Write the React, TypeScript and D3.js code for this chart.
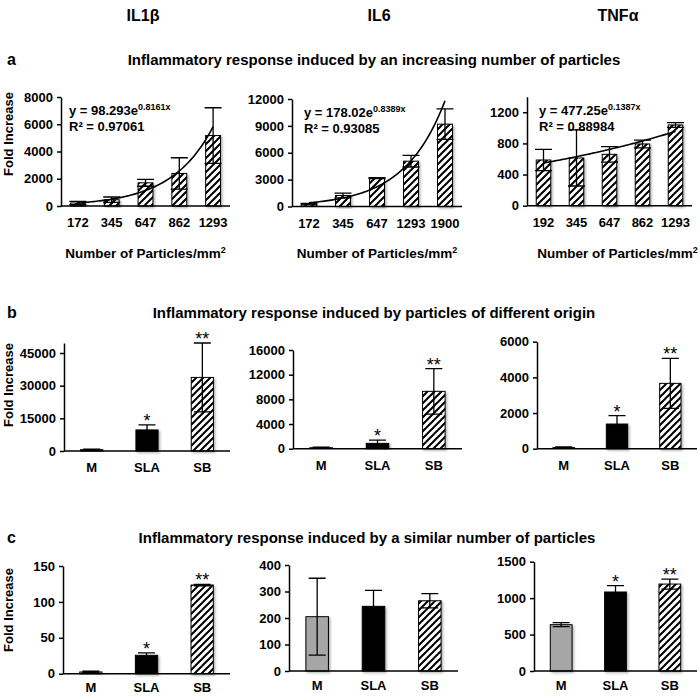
import React, { useEffect, useRef } from "react";
import * as d3 from "d3";

// column headers and row titles
const cytokines = ["IL1β", "IL6", "TNFα"];
const rowLetters = ["a", "b", "c"];
const rowTitles = [
  "Inflammatory response induced by an increasing number of particles",
  "Inflammatory response induced by particles of different origin",
  "Inflammatory response induced by a similar number of particles",
];

// row a: number of particles
const particleCats = [
  ["172", "345", "647", "862", "1293"],
  ["172", "345", "647", "1293", "1900"],
  ["192", "345", "647", "862", "1293"],
];
const particleMeans = [
  [220, 460, 1700, 2390, 5170],
  [270, 1230, 3170, 5060, 9190],
  [587, 613, 660, 793, 1037],
];
const particleErrs = [
  [120, 200, 250, 1150, 2040],
  [80, 270, 50, 650, 1700],
  [137, 360, 100, 50, 30],
];
const trendA = [98.293, 178.02, 477.25];
const trendB = [0.8161, 0.8389, 0.1387];
const trendR2 = ["0.97061", "0.93085", "0.88984"];

// rows b and c: origin of particles
const originCats = ["M", "SLA", "SB"];
const originMeans = [
  [614, 9680, 33790],
  [160, 865, 9300],
  [75, 1383, 3664],
];
const originErrs = [
  [200, 2300, 15800],
  [80, 540, 3680],
  [30, 467, 1400],
];
const originStars = [
  ["", "*", "**"],
  ["", "*", "**"],
  ["", "*", "**"],
];
const similarMeans = [
  [2.4, 25.6, 123.5],
  [205, 244, 265],
  [636, 1084, 1193],
];
const similarErrs = [
  [1, 3.3, 1],
  [145, 60, 27],
  [27, 87, 69],
];
const similarStars = [
  ["", "*", "**"],
  ["", "", ""],
  ["", "*", "**"],
];

// axis settings per row/column
const yMaxA = [8000, 12000, 1400];
const yStepA = [2000, 3000, 400];
const yMaxB = [49600, 16000, 6000];
const yStepB = [15000, 4000, 2000];
const yMaxC = [150, 400, 1500];
const yStepC = [50, 100, 500];

const FONT = "'Liberation Sans', Arial, Helvetica, sans-serif";

interface Frame {
  x0: number;
  x1: number;
  yTop: number;
  yBot: number;
}

const framesA: Frame[] = [
  { x0: 61, x1: 230, yTop: 97, yBot: 206 },
  { x0: 292, x1: 462, yTop: 99, yBot: 206.5 },
  { x0: 527, x1: 692, yTop: 96.7, yBot: 205.7 },
];
const framesB: Frame[] = [
  { x0: 64, x1: 230, yTop: 343, yBot: 451 },
  { x0: 293, x1: 462, yTop: 350, yBot: 448.7 },
  { x0: 537, x1: 697, yTop: 341.7, yBot: 448.7 },
];
const framesC: Frame[] = [
  { x0: 63, x1: 230, yTop: 566, yBot: 673.7 },
  { x0: 289, x1: 458, yTop: 565, yBot: 671 },
  { x0: 534, x1: 697, yTop: 561.7, yBot: 671 },
];

const fillFor = (cat: string, hatchAll: boolean) => {
  if (hatchAll || cat === "SB") return "url(#hatch)";
  if (cat === "SLA") return "#000";
  return "#a6a6a6";
};

const App: React.FC = () => {
  const svgRef = useRef<SVGSVGElement>(null);

  useEffect(() => {
    if (!svgRef.current) return;
    const svg = d3.select(svgRef.current);
    svg.selectAll("*").remove();

    const defs = svg.append("defs");
    const pat = defs
      .append("pattern")
      .attr("id", "hatch")
      .attr("patternUnits", "userSpaceOnUse")
      .attr("width", 7)
      .attr("height", 7);
    pat.append("rect").attr("width", 7).attr("height", 7).attr("fill", "#fff");
    pat
      .append("path")
      .attr("d", "M0,7 L7,0 M-1,1 L1,-1 M6,8 L8,6")
      .attr("stroke", "#000")
      .attr("stroke-width", 2);
    const shadow = defs
      .append("filter")
      .attr("id", "shadow")
      .attr("x", "-30%")
      .attr("y", "-10%")
      .attr("width", "160%")
      .attr("height", "130%");
    shadow
      .append("feDropShadow")
      .attr("dx", 1.5)
      .attr("dy", 1.5)
      .attr("stdDeviation", 1.2)
      .attr("flood-color", "#000")
      .attr("flood-opacity", 0.3);

    svg
      .append("rect")
      .attr("width", 700)
      .attr("height", 696)
      .attr("fill", "#fff");

    const g = svg.append("g").style("font-family", FONT);

    // column headers
    const headerX = [143, 379, 618];
    cytokines.forEach((c, i) => {
      g.append("text")
        .attr("x", headerX[i])
        .attr("y", 21)
        .attr("text-anchor", "middle")
        .attr("font-size", 16)
        .attr("font-weight", "bold")
        .text(c);
    });

    // row letters and titles
    const titleY = [65, 318, 543];
    const titleX = [374, 374, 367];
    rowTitles.forEach((t, i) => {
      g.append("text")
        .attr("x", 7)
        .attr("y", titleY[i])
        .attr("font-size", 16)
        .attr("font-weight", "bold")
        .text(rowLetters[i]);
      g.append("text")
        .attr("x", titleX[i])
        .attr("y", titleY[i])
        .attr("text-anchor", "middle")
        .attr("font-size", 15)
        .attr("font-weight", "bold")
        .text(t);
    });

    const drawPanel = (
      f: Frame,
      cats: string[],
      means: number[],
      errs: number[],
      yMax: number,
      yStep: number,
      padding: number,
      hatchAll: boolean,
      stars: string[] | null,
      labelDy: number
    ) => {
      const x = d3
        .scaleBand<string>()
        .domain(cats)
        .range([f.x0, f.x1])
        .paddingInner(padding)
        .paddingOuter(padding / 2);
      const y = d3.scaleLinear().domain([0, yMax]).range([f.yBot, f.yTop]);
      const p = g.append("g");

      // bars
      p.selectAll(".bar")
        .data(cats)
        .enter()
        .append("rect")
        .attr("x", (d) => x(d)!)
        .attr("y", (d, i) => y(means[i]))
        .attr("width", x.bandwidth())
        .attr("height", (d, i) => f.yBot - y(means[i]))
        .attr("fill", (d) => fillFor(d, hatchAll))
        .attr("stroke", "#000")
        .attr("stroke-width", 1)
        .attr("filter", "url(#shadow)");

      // error bars
      const cap = 8.5;
      cats.forEach((c, i) => {
        const cx = x(c)! + x.bandwidth() / 2;
        const hi = y(means[i] + errs[i]);
        const lo = y(Math.max(0, means[i] - errs[i]));
        p.append("path")
          .attr(
            "d",
            `M${cx},${hi}V${lo}M${cx - cap},${hi}H${cx + cap}M${cx - cap},${lo}H${cx + cap}`
          )
          .attr("stroke", "#000")
          .attr("stroke-width", 1.3)
          .attr("fill", "none");
        if (stars && stars[i]) {
          p.append("text")
            .attr("x", cx)
            .attr("y", hi + 2)
            .attr("text-anchor", "middle")
            .attr("font-size", 18)
            .text(stars[i]);
        }
      });

      // y axis
      const yAxis = d3
        .axisLeft(y)
        .tickValues(d3.range(0, yMax + 1e-6, yStep))
        .tickSize(4)
        .tickSizeOuter(0)
        .tickPadding(4)
        .tickFormat((d) => `${d}`);
      const ya = p
        .append("g")
        .attr("transform", `translate(${f.x0},0)`)
        .call(yAxis);
      ya.select(".domain").attr("stroke", "#000").attr("stroke-width", 1.5);
      ya.selectAll(".tick line").attr("stroke", "#000").attr("stroke-width", 1.5);
      ya.selectAll(".tick text")
        .attr("fill", "#000")
        .attr("font-size", 13)
        .attr("font-weight", "bold")
        .attr("font-family", FONT);

      // x axis
      p.append("line")
        .attr("x1", f.x0)
        .attr("x2", f.x1)
        .attr("y1", f.yBot)
        .attr("y2", f.yBot)
        .attr("stroke", "#000")
        .attr("stroke-width", 1.5);
      cats.forEach((c) => {
        p.append("text")
          .attr("x", x(c)! + x.bandwidth() / 2)
          .attr("y", f.yBot + labelDy)
          .attr("text-anchor", "middle")
          .attr("font-size", 13)
          .attr("font-weight", "bold")
          .text(c);
      });
      return { x, y };
    };

    // row a
    const eqOffset = [8, 12, 12];
    framesA.forEach((f, i) => {
      const { x, y } = drawPanel(
        f,
        particleCats[i],
        particleMeans[i],
        particleErrs[i],
        yMaxA[i],
        yStepA[i],
        0.56,
        true,
        null,
        21
      );
      const cats = particleCats[i];
      const first = x(cats[0])! + x.bandwidth() / 2;
      const step = x.step();
      const pts = d3.range(1, 5.0001, 0.05).map((t) => [
        first + (t - 1) * step,
        y(trendA[i] * Math.exp(trendB[i] * t)),
      ]) as [number, number][];
      g.append("path")
        .attr("d", d3.line()(pts))
        .attr("fill", "none")
        .attr("stroke", "#000")
        .attr("stroke-width", 1.6);

      const eqx = f.x0 + eqOffset[i];
      const eq = g
        .append("text")
        .attr("x", eqx)
        .attr("y", f.yTop + 18)
        .attr("font-size", 13)
        .attr("font-weight", "bold");
      eq.append("tspan").text(`y = ${trendA[i]}e`);
      eq.append("tspan")
        .attr("dy", -5)
        .attr("font-size", 9)
        .text(`${trendB[i]}x`);
      g.append("text")
        .attr("x", eqx)
        .attr("y", f.yTop + 34)
        .attr("font-size", 13)
        .attr("font-weight", "bold")
        .text(`R² = ${trendR2[i]}`);

      const tx = (f.x0 + f.x1) / 2 + (i === 2 ? 8 : 0);
      const ax = g
        .append("text")
        .attr("x", tx)
        .attr("y", 258)
        .attr("text-anchor", "middle")
        .attr("font-size", 13.5)
        .attr("font-weight", "bold");
      ax.append("tspan").text("Number of Particles/mm");
      ax.append("tspan").attr("dy", -5).attr("font-size", 9).text("2");
    });

    // row b
    framesB.forEach((f, i) => {
      drawPanel(
        f,
        originCats,
        originMeans[i],
        originErrs[i],
        yMaxB[i],
        yStepB[i],
        0.6,
        false,
        originStars[i],
        21
      );
    });

    // row c
    framesC.forEach((f, i) => {
      drawPanel(
        f,
        originCats,
        similarMeans[i],
        similarErrs[i],
        yMaxC[i],
        yStepC[i],
        0.6,
        false,
        similarStars[i],
        18.5
      );
    });

    // y axis titles
    const yTitleCenter = [134, 385, 610];
    yTitleCenter.forEach((cy) => {
      g.append("text")
        .attr("transform", `translate(13,${cy}) rotate(-90)`)
        .attr("text-anchor", "middle")
        .attr("font-size", 13)
        .attr("font-weight", "bold")
        .text("Fold Increase");
    });
  }, []);

  return (
    <svg
      ref={svgRef}
      width={700}
      height={696}
      style={{ position: "absolute", left: 0, top: 0 }}
    />
  );
};

export default App;
